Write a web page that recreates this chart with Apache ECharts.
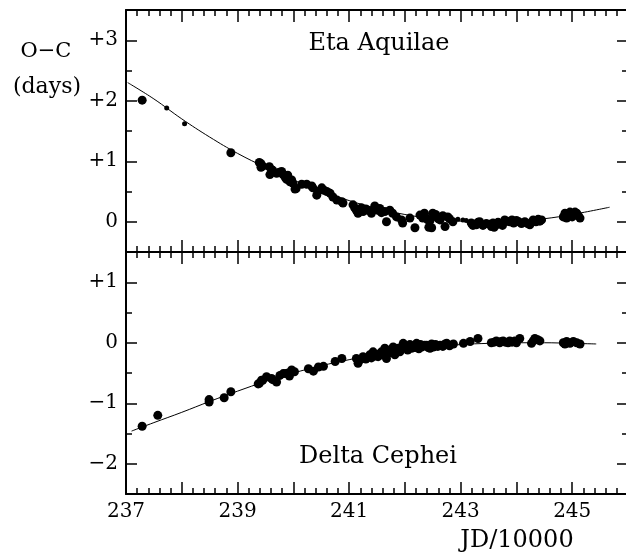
<!DOCTYPE html>
<html>
<head>
<meta charset="utf-8">
<script src="https://cdn.jsdelivr.net/npm/echarts@6/dist/echarts.min.js"></script>
<style>
  html, body { margin: 0; padding: 0; background: #fff; }
  #chart { width: 626px; height: 553px; }
</style>
</head>
<body>
<div id="chart"></div>
<script>
// O-C values, [JD/10000, days]
const etaBig = [
  [237.29, 2.01], [238.88, 1.14],
  [239.39, 0.98], [239.42, 0.96], [239.42, 0.90], [239.45, 0.92], [239.57, 0.91], [239.58, 0.78], [239.61, 0.86], [239.63, 0.85],
  [239.70, 0.80], [239.75, 0.82], [239.79, 0.83], [239.81, 0.79], [239.85, 0.74], [239.88, 0.70], [239.90, 0.77], [239.91, 0.72], [239.94, 0.66],
  [239.97, 0.69], [239.99, 0.64], [240.03, 0.54], [240.05, 0.55],
  [240.15, 0.62], [240.24, 0.62], [240.33, 0.59], [240.35, 0.56], [240.42, 0.44], [240.44, 0.50], [240.51, 0.56], [240.55, 0.52], [240.60, 0.50],
  [240.66, 0.47], [240.71, 0.41], [240.78, 0.36], [240.87, 0.33], [240.89, 0.31],
  [241.07, 0.28], [241.10, 0.23], [241.13, 0.19], [241.16, 0.14], [241.22, 0.23], [241.25, 0.17], [241.30, 0.21], [241.34, 0.19], [241.40, 0.14],
  [241.46, 0.26], [241.52, 0.19], [241.55, 0.22], [241.58, 0.15], [241.64, 0.17], [241.67, 0.00], [241.73, 0.19], [241.78, 0.14], [241.85, 0.08],
  [241.94, 0.03], [241.96, -0.02],
  [242.09, 0.06], [242.18, -0.10], [242.27, 0.11], [242.30, 0.10], [242.32, 0.06], [242.35, 0.14], [242.38, 0.06], [242.41, 0.03], [242.43, -0.09], [242.45, 0.02],
  [242.48, -0.10], [242.50, 0.14], [242.55, 0.12], [242.57, 0.08], [242.60, 0.05], [242.63, 0.03], [242.68, 0.10], [242.72, -0.08], [242.77, 0.08], [242.80, 0.05], [242.86, 0.00],
  [243.19, -0.02], [243.22, -0.06], [243.28, -0.05], [243.31, -0.01], [243.34, 0.00], [243.40, -0.06], [243.46, -0.03], [243.52, -0.04], [243.55, -0.08],
  [243.58, -0.02], [243.60, -0.09], [243.64, -0.05], [243.67, -0.01], [243.70, -0.03], [243.75, -0.06], [243.79, 0.03], [243.83, 0.01], [243.88, 0.00],
  [243.92, 0.03], [243.95, -0.02], [244.00, 0.02], [244.04, 0.00], [244.09, -0.03], [244.15, 0.00], [244.20, -0.03], [244.24, -0.05],
  [244.30, 0.03], [244.35, 0.00], [244.39, 0.04], [244.42, 0.01], [244.45, 0.03],
  [244.84, 0.08], [244.87, 0.14], [244.90, 0.06], [244.93, 0.11], [244.96, 0.16], [245.00, 0.08], [245.02, 0.11], [245.05, 0.16], [245.08, 0.14],
  [245.11, 0.10], [245.14, 0.06]
];
const etaSmall = [
  [237.73, 1.88], [238.05, 1.62], [242.95, 0.04], [243.04, 0.03], [243.10, 0.02]
];
const etaFit = [
  [237.03, 2.30], [237.5, 2.03], [238, 1.70], [238.5, 1.40], [239, 1.13], [239.5, 0.90], [240, 0.69], [240.5, 0.51], [241, 0.35],
  [241.5, 0.22], [242, 0.12], [242.5, 0.05], [243, 0.01], [243.5, -0.01], [244, 0.01], [244.5, 0.05], [245, 0.12], [245.67, 0.24]
];

const delBig = [
  [237.29, -1.38], [237.57, -1.20], [238.49, -0.98], [238.49, -0.94], [238.76, -0.91], [238.88, -0.81],
  [239.37, -0.68], [239.39, -0.67], [239.43, -0.62], [239.45, -0.62], [239.52, -0.56], [239.61, -0.59], [239.63, -0.61], [239.70, -0.65], [239.76, -0.54],
  [239.82, -0.51], [239.87, -0.51], [239.91, -0.50], [239.93, -0.55], [239.97, -0.45], [240.02, -0.48],
  [240.27, -0.43], [240.36, -0.47], [240.45, -0.40], [240.54, -0.39], [240.75, -0.31], [240.87, -0.26],
  [241.13, -0.26], [241.16, -0.34], [241.20, -0.28], [241.25, -0.23], [241.30, -0.27], [241.37, -0.20], [241.40, -0.25], [241.43, -0.15], [241.47, -0.22],
  [241.52, -0.23], [241.55, -0.18], [241.58, -0.15], [241.60, -0.20], [241.64, -0.09], [241.67, -0.26], [241.70, -0.17], [241.73, -0.12], [241.76, -0.15],
  [241.79, -0.07], [241.82, -0.20], [241.85, -0.12], [241.88, -0.09], [241.91, -0.15], [241.94, -0.10], [241.97, -0.01],
  [242.00, -0.05], [242.03, -0.07], [242.05, -0.12], [242.09, -0.03], [242.12, -0.09], [242.15, -0.05], [242.18, -0.08], [242.21, -0.01], [242.25, -0.10],
  [242.28, -0.03], [242.30, -0.07], [242.35, -0.04], [242.39, -0.04], [242.42, -0.08], [242.45, -0.09], [242.48, -0.02], [242.51, -0.07], [242.55, -0.03],
  [242.59, -0.06], [242.63, -0.04], [242.68, -0.06], [242.72, -0.02], [242.75, -0.01], [242.80, -0.05], [242.87, -0.02],
  [243.05, -0.01], [243.17, 0.02], [243.31, 0.07], [243.55, 0.00], [243.60, 0.01], [243.64, 0.03], [243.70, 0.00], [243.73, 0.02], [243.76, 0.03],
  [243.80, 0.01], [243.85, 0.00], [243.88, 0.03], [243.92, 0.01], [243.97, 0.03], [244.00, 0.00], [244.06, 0.07], [244.27, -0.01], [244.30, 0.03],
  [244.33, 0.07], [244.38, 0.05], [244.42, 0.03],
  [244.84, 0.00], [244.87, -0.02], [244.90, 0.02], [244.96, -0.01], [245.02, 0.02], [245.08, 0.00], [245.14, -0.02]
];
const delFit = [
  [237.1, -1.46], [237.5, -1.32], [238, -1.15], [238.5, -0.97], [239, -0.80], [239.5, -0.64], [240, -0.50], [240.5, -0.38], [241, -0.28],
  [241.5, -0.19], [242, -0.12], [242.5, -0.07], [243, -0.03], [243.5, -0.01], [244, 0.0], [244.5, 0.0], [245, -0.01], [245.43, -0.02]
];

const xRange = [237, 246];
const etaRange = [-0.5, 3.5];
const delRange = [-2.5, 1.5];
const etaMajor = [0, 1, 2, 3];
const delMajor = [-2, -1, 0, 1];

const FONT = '"DejaVu Serif", "Liberation Serif", serif';
const black = '#000';

const fmtY = (v) => {
  if (Math.abs(v - Math.round(v)) > 1e-6) return '';
  const n = Math.round(v);
  return n > 0 ? '+' + n : n < 0 ? '\u2212' + (-n) : '0';
};

const makeX = (gi, position, labels) => ({
  gridIndex: gi,
  type: 'value',
  position,
  min: xRange[0],
  max: xRange[1],
  interval: 1,
  axisLine: { onZero: false, lineStyle: { color: black, width: 2 } },
  axisTick: { inside: true, length: 12, lineStyle: { color: black, width: 1.5 } },
  minorTick: { show: true, splitNumber: 5, length: 6, lineStyle: { color: black, width: 1.5 } },
  splitLine: { show: false },
  minorSplitLine: { show: false },
  axisLabel: {
    show: labels,
    margin: 8,
    color: black,
    fontFamily: FONT,
    fontSize: 20,
    formatter: (v) => (Math.round(v) % 2 === 1 ? String(Math.round(v)) : '')
  }
});

// half-unit ticks (with labels on the left), then integer ticks on top
const makeYMinor = (gi, position, range, labels) => ({
  gridIndex: gi,
  type: 'value',
  position,
  min: range[0],
  max: range[1],
  interval: 0.5,
  axisLine: { onZero: false, lineStyle: { color: black, width: 2 } },
  axisTick: { inside: true, length: 6, lineStyle: { color: black, width: 1.5 } },
  splitLine: { show: false },
  axisLabel: {
    show: labels,
    margin: 8,
    color: black,
    fontFamily: FONT,
    fontSize: 20,
    formatter: fmtY
  }
});
const makeYMajor = (gi, position, range, major) => ({
  gridIndex: gi,
  type: 'value',
  position,
  min: range[0],
  max: range[1],
  axisLine: { show: false, onZero: false },
  axisTick: { inside: true, length: 11, customValues: major, lineStyle: { color: black, width: 1.5 } },
  splitLine: { show: false },
  axisLabel: { show: false }
});

const chart = echarts.init(document.getElementById('chart'), null, { renderer: 'canvas' });

const dots = (data, xi, yi, size) => ({
  type: 'scatter',
  xAxisIndex: xi,
  yAxisIndex: yi,
  data,
  symbol: 'circle',
  symbolSize: size,
  itemStyle: { color: black, opacity: 1 },
  silent: true
});
const fit = (data, xi, yi) => ({
  type: 'line',
  xAxisIndex: xi,
  yAxisIndex: yi,
  data,
  smooth: 0.4,
  showSymbol: false,
  lineStyle: { color: black, width: 1 },
  z: 1,
  silent: true
});

const title = (text, x, y, size) => ({
  type: 'text', x, y,
  style: { text, font: size + 'px ' + FONT, fill: black, textAlign: 'center', textVerticalAlign: 'middle' }
});

chart.setOption({
  animation: false,
  backgroundColor: '#fff',
  grid: [
    { left: 126, top: 10, width: 502, height: 242, outerBoundsMode: 'none' },
    { left: 126, top: 252, width: 502, height: 242, outerBoundsMode: 'none' }
  ],
  xAxis: [
    makeX(0, 'bottom', false),
    makeX(0, 'top', false),
    makeX(1, 'bottom', true),
    makeX(1, 'top', false)
  ],
  yAxis: [
    makeYMinor(0, 'left', etaRange, true),
    makeYMajor(0, 'left', etaRange, etaMajor),
    makeYMinor(0, 'right', etaRange, false),
    makeYMajor(0, 'right', etaRange, etaMajor),
    makeYMinor(1, 'left', delRange, true),
    makeYMajor(1, 'left', delRange, delMajor),
    makeYMinor(1, 'right', delRange, false),
    makeYMajor(1, 'right', delRange, delMajor)
  ],
  series: [
    fit(etaFit, 0, 0),
    dots(etaBig, 0, 0, 9),
    dots(etaSmall, 0, 0, 5),
    fit(delFit, 2, 4),
    dots(delBig, 2, 4, 9)
  ],
  graphic: [
    title('O\u2212C', 46, 52, 21),
    title('(days)', 47, 87, 22),
    title('Eta Aquilae', 379, 44, 24),
    title('Delta Cephei', 378, 457, 24),
    title('JD/10000', 517, 541, 24)
  ]
});
</script>
</body>
</html>
